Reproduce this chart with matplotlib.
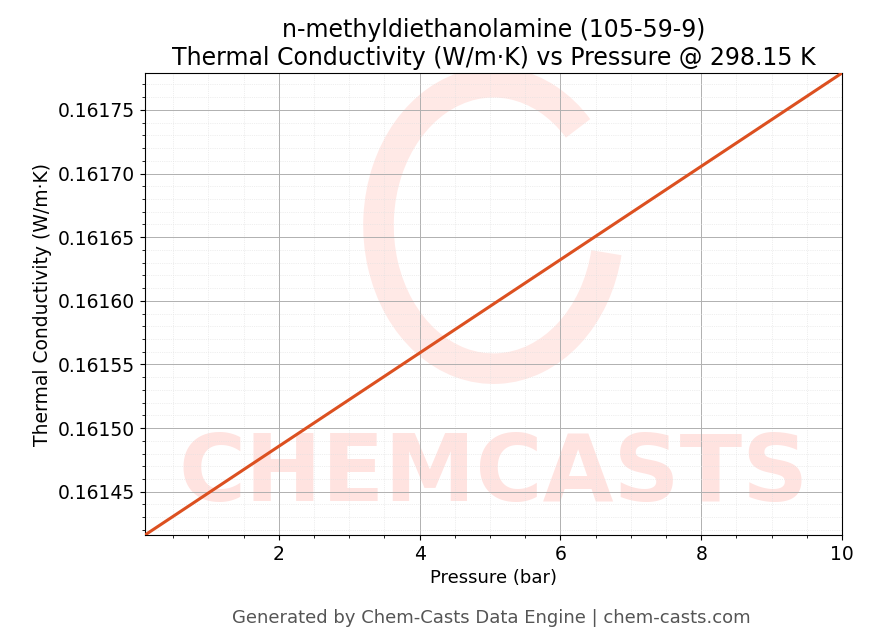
import matplotlib
matplotlib.use("Agg")
import matplotlib.pyplot as plt
from matplotlib.ticker import AutoMinorLocator
from matplotlib.patches import Arc

pressure = [0.1, 10.0]
conductivity = [0.161416, 0.161779]
yticks = [0.16145, 0.16150, 0.16155, 0.16160, 0.16165, 0.16170, 0.16175]

fig = plt.figure(figsize=(8.7, 6.44), dpi=100)
ax = fig.add_axes([145/870, 1-535/644, (842-145)/870, (535-73)/644])

# watermark
ax.text(0.5, 0.13, "CHEMCASTS", transform=ax.transAxes, ha="center", va="center",
        fontsize=66, fontweight="bold", color="#ffe3e0", zorder=0, clip_on=True)
ax.add_patch(Arc((0.5, 0.67), 0.33, 0.62, angle=0, theta1=60, theta2=340,
                 transform=ax.transAxes, lw=22, color="#ffe9e6", zorder=0))

ax.plot(pressure, conductivity, color="#dc5020", lw=2.2, zorder=3)
ax.set_xlim(pressure[0], pressure[1])
ax.set_ylim(conductivity[0], conductivity[1])
ax.set_yticks(yticks)
ax.set_yticklabels([f"{v:.5f}" for v in yticks])
ax.xaxis.set_minor_locator(AutoMinorLocator(4))
ax.yaxis.set_minor_locator(AutoMinorLocator(5))
ax.grid(which="major", color="#b0b0b0", lw=0.7)
ax.grid(which="minor", color="#e0e0e0", lw=0.5, ls=":")
ax.tick_params(labelsize=13.5)
ax.set_xlabel("Pressure (bar)", fontsize=13)
ax.set_ylabel("Thermal Conductivity (W/m·K)", fontsize=13.5)
ax.set_title("n-methyldiethanolamine (105-59-9)\nThermal Conductivity (W/m·K) vs Pressure @ 298.15 K",
             fontsize=17)
fig.text(0.565, 0.04, "Generated by Chem-Casts Data Engine | chem-casts.com",
         ha="center", va="center", fontsize=13, color="#555555")
fig.savefig("out.png", dpi=100)
